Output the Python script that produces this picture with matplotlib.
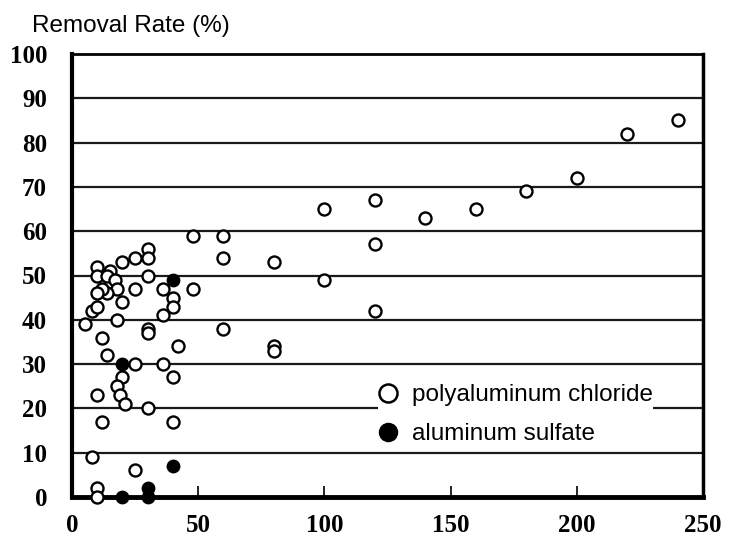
import matplotlib.pyplot as plt
from matplotlib.lines import Line2D

# polyaluminum chloride (open circles)
pac_dose = [240, 220, 200, 180, 160, 140, 120, 100, 120, 80, 100, 120, 80, 80,
            48, 60, 60, 30, 30, 25, 20, 15, 10, 10, 14, 17, 30, 48, 36, 25,
            18, 14, 12, 10, 20, 40, 40, 36, 8, 10, 5, 18, 30, 30, 60, 12,
            42, 14, 25, 36, 40, 20, 18, 19, 21, 10, 30, 12, 40, 8, 25, 10, 10]
pac_rate = [85, 82, 72, 69, 65, 63, 67, 65, 57, 53, 49, 42, 34, 33,
            59, 59, 54, 56, 54, 54, 53, 51, 52, 50, 50, 49, 50, 47, 47, 47,
            47, 46, 47, 46, 44, 45, 43, 41, 42, 43, 39, 40, 38, 37, 38, 36,
            34, 32, 30, 30, 27, 27, 25, 23, 21, 23, 20, 17, 17, 9, 6, 2, 0]

# aluminum sulfate (filled circles)
as_dose = [40, 20, 40, 20, 30, 30]
as_rate = [49, 30, 7, 0, 0, 2]

x_ticks = [0, 50, 100, 150, 200, 250]
y_ticks = [0, 10, 20, 30, 40, 50, 60, 70, 80, 90, 100]

W, H = 731, 554
fig = plt.figure(figsize=(W / 100, H / 100), dpi=100)
ax = fig.add_axes([72 / W, 1 - 497 / H, (703 - 72) / W, (497 - 54) / H])

# horizontal grid
for yv in y_ticks[1:-1]:
    ax.axhline(yv, color='#1a1a1a', lw=1.6, zorder=1)

ax.scatter(pac_dose, pac_rate, s=75, facecolors='white', edgecolors='black',
           linewidths=1.7, zorder=3, clip_on=False)
ax.scatter(as_dose, as_rate, s=80, facecolors='black', edgecolors='black',
           linewidths=1.0, zorder=4, clip_on=False)

ax.set_xlim(0, 250)
ax.set_ylim(0, 100)
ax.set_xticks(x_ticks)
ax.set_yticks(y_ticks)

tick_font = dict(family='Liberation Serif', weight='bold', size=18)
ax.set_xticklabels([str(v) for v in x_ticks], fontdict=tick_font)
ax.set_yticklabels([str(v) for v in y_ticks], fontdict=tick_font)
ax.tick_params(axis='x', direction='in', length=8, width=1.2, pad=12)
ax.tick_params(axis='y', direction='in', length=0, pad=18)

for side, lw in [('left', 3), ('bottom', 3.5), ('top', 2), ('right', 2.5)]:
    ax.spines[side].set_linewidth(lw)
    ax.spines[side].set_color('black')

fig.text(32 / W, 1 - 26 / H, 'Removal Rate (%)', family='Liberation Sans',
         fontsize=17.5, ha='left', va='center')

handles = [
    Line2D([], [], ls='none', marker='o', ms=13, mfc='white', mec='black', mew=1.8),
    Line2D([], [], ls='none', marker='o', ms=13, mfc='black', mec='black'),
]
leg = ax.legend(handles, ['polyaluminum chloride', 'aluminum sulfate'],
                loc='upper left', bbox_to_anchor=(378 / W, 1 - 384 / H),
                bbox_transform=fig.transFigure, frameon=True, fancybox=False,
                facecolor='white', edgecolor='none', framealpha=1,
                prop={'family': 'Liberation Sans', 'size': 17.5},
                handlelength=0.8, handletextpad=0.6, labelspacing=0.7,
                borderpad=0.0, borderaxespad=0)
leg.set_zorder(5)

fig.savefig('out.png', dpi=100, facecolor='white')
